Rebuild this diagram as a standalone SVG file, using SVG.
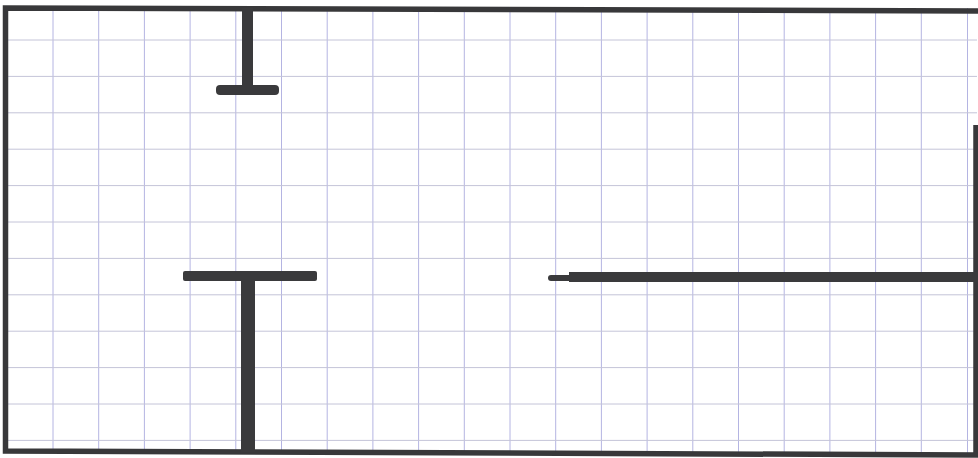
<svg xmlns="http://www.w3.org/2000/svg" width="978" height="458" viewBox="0 0 978 458">
<defs>
<style>
.gv{stroke:#b4b4e2;stroke-width:1}
.gh{stroke:#c4c4d8;stroke-width:1}
.wall{fill:#3a3a3c}
.border{fill:none;stroke:#38383a;stroke-width:5.5;stroke-linejoin:miter}
</style>
</defs>
<rect x="0" y="0" width="978" height="458" fill="#ffffff"/>
<g id="grid">
<g id="grid-v">
<line class="gv" x1="53" y1="8" x2="53" y2="452"/>
<line class="gv" x1="98.7" y1="8" x2="98.7" y2="452"/>
<line class="gv" x1="144.4" y1="8" x2="144.4" y2="452"/>
<line class="gv" x1="190.1" y1="8" x2="190.1" y2="452"/>
<line class="gv" x1="235.8" y1="8" x2="235.8" y2="452"/>
<line class="gv" x1="281.5" y1="8" x2="281.5" y2="452"/>
<line class="gv" x1="327.2" y1="8" x2="327.2" y2="452"/>
<line class="gv" x1="372.9" y1="8" x2="372.9" y2="452"/>
<line class="gv" x1="418.6" y1="8" x2="418.6" y2="452"/>
<line class="gv" x1="464.3" y1="8" x2="464.3" y2="452"/>
<line class="gv" x1="510" y1="8" x2="510" y2="452"/>
<line class="gv" x1="555.7" y1="8" x2="555.7" y2="452"/>
<line class="gv" x1="601.4" y1="8" x2="601.4" y2="452"/>
<line class="gv" x1="647.1" y1="8" x2="647.1" y2="452"/>
<line class="gv" x1="692.8" y1="8" x2="692.8" y2="452"/>
<line class="gv" x1="738.5" y1="8" x2="738.5" y2="452"/>
<line class="gv" x1="784.2" y1="8" x2="784.2" y2="452"/>
<line class="gv" x1="829.9" y1="8" x2="829.9" y2="452"/>
<line class="gv" x1="875.6" y1="8" x2="875.6" y2="452"/>
<line class="gv" x1="921.3" y1="8" x2="921.3" y2="452"/>
<line class="gv" x1="967.5" y1="8" x2="967.5" y2="455"/>
</g>
<g id="grid-h">
<line class="gh" x1="5" y1="40" x2="977" y2="40"/>
<line class="gh" x1="5" y1="76.4" x2="977" y2="76.4"/>
<line class="gh" x1="5" y1="112.8" x2="977" y2="112.8"/>
<line class="gh" x1="5" y1="149.2" x2="977" y2="149.2"/>
<line class="gh" x1="5" y1="185.6" x2="977" y2="185.6"/>
<line class="gh" x1="5" y1="222" x2="977" y2="222"/>
<line class="gh" x1="5" y1="258.4" x2="977" y2="258.4"/>
<line class="gh" x1="5" y1="294.8" x2="977" y2="294.8"/>
<line class="gh" x1="5" y1="331.2" x2="977" y2="331.2"/>
<line class="gh" x1="5" y1="367.6" x2="977" y2="367.6"/>
<line class="gh" x1="5" y1="404" x2="977" y2="404"/>
<line class="gh" x1="5" y1="440.4" x2="977" y2="440.4"/>
</g>
</g>
<g id="outer-wall">
<path class="border" d="M976 125 L976 455 L5.5 451 L5.5 8 L978 11"/>
</g>
<g id="upper-t-wall">
<rect class="wall" x="242" y="8" width="11" height="82"/>
<rect class="wall" x="216" y="85" width="63" height="10" rx="4"/>
</g>
<g id="lower-t-wall">
<rect class="wall" x="183" y="271" width="134" height="10" rx="2"/>
<rect class="wall" x="241" y="276" width="14" height="176"/>
</g>
<g id="right-partition">
<rect class="wall" x="548" y="275" width="26" height="6" rx="3"/>
<rect class="wall" x="569" y="272" width="409" height="10"/>
</g>
</svg>
